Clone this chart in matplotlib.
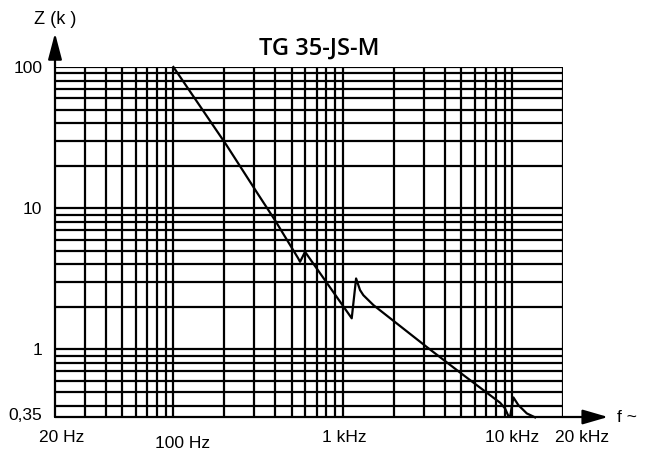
import numpy as np
import matplotlib
matplotlib.use("Agg")
import matplotlib.pyplot as plt

# impedance curve (Hz, kOhm)
freq = [100, 206, 310, 398, 544, 559, 598, 1128, 1197, 1263, 1321, 1514,
        3127, 5142, 8472, 9060, 9485, 9706, 10150, 10860, 12180, 13630]
imped = [100, 27.9, 13.0, 8.2, 4.43, 4.17, 4.91, 1.66, 3.18, 2.63, 2.42, 2.06,
         1.04, 0.658, 0.419, 0.382, 0.337, 0.335, 0.457, 0.403, 0.352, 0.330]

x_ticks = [20, 100, 1000, 10000, 20000]
x_labels = ["20 Hz", "100 Hz", "1 kHz", "10 kHz", "20 kHz"]
x_offsets = [(7, -21), (9, -27), (1, -21), (0, -21), (19, -21)]
y_ticks = [0.35, 1, 10, 100]
y_labels = ["0,35", "1", "10", "100"]

f_min, f_max = 20, 20000
z_min, z_max = 0.332, 100

lab_font = "Liberation Sans"

fig = plt.figure(figsize=(6.48, 4.5), dpi=100)
ax = fig.add_axes([55 / 648, 1 - 417 / 450, 508.3 / 648, 350 / 450])
ax.set_xscale("log")
ax.set_yscale("log")
ax.set_xlim(f_min, f_max)
ax.set_ylim(z_min, z_max)

# log grid lines
vgrid = [m * 10 ** d for d in range(1, 5) for m in range(1, 10)]
vgrid = [v for v in vgrid if f_min < v <= f_max]
hgrid = [m * 10 ** d for d in range(-1, 3) for m in range(1, 10)]
hgrid = [h for h in hgrid if 0.35 < h <= z_max]
for v in vgrid:
    ax.axvline(v, color="black", lw=1.6, zorder=1)
for h in hgrid:
    ax.axhline(h, color="black", lw=1.6, zorder=1)

ax.plot(freq, imped, color="black", lw=1.6, zorder=3, clip_on=False)

for s in ax.spines.values():
    s.set_visible(False)

# axes with arrows
ax.annotate("", xy=(0, 1.097), xytext=(0, 0), xycoords="axes fraction",
            arrowprops=dict(arrowstyle="-|>,head_length=1.6,head_width=0.42",
                            mutation_scale=10, lw=1.6, color="black",
                            shrinkA=0, shrinkB=0), annotation_clip=False)
ax.annotate("", xy=(1.088, 0), xytext=(0, 0), xycoords="axes fraction",
            arrowprops=dict(arrowstyle="-|>,head_length=1.55,head_width=0.45",
                            mutation_scale=10, lw=1.6, color="black",
                            shrinkA=0, shrinkB=0), annotation_clip=False)

ax.set_xticks([])
ax.set_xticks([], minor=True)
ax.set_yticks(y_ticks)
ax.set_yticklabels(y_labels, fontfamily=lab_font, fontsize=12.5)
ax.yaxis.set_minor_locator(matplotlib.ticker.NullLocator())
ax.tick_params(axis="y", length=0, pad=9)

for f, lab, off in zip(x_ticks, x_labels, x_offsets):
    ax.annotate(lab, xy=(f, 0), xycoords=("data", "axes fraction"),
                xytext=off, textcoords="offset pixels", ha="center", va="center",
                fontfamily=lab_font, fontsize=12.5, annotation_clip=False)

fig.text(55 / 648, 1 - 19 / 450, "Z (k )", ha="center", va="center",
         fontfamily=lab_font, fontsize=13)
fig.text(627 / 648, 1 - 418 / 450, "f ~", ha="center", va="center",
         fontfamily=lab_font, fontsize=12.5)
fig.text(319 / 648, 1 - 49 / 450, "TG 35-JS-M", ha="center", va="center",
         fontfamily="Open Sans", fontweight="semibold", fontsize=17)

fig.savefig("out.png", dpi=100)
